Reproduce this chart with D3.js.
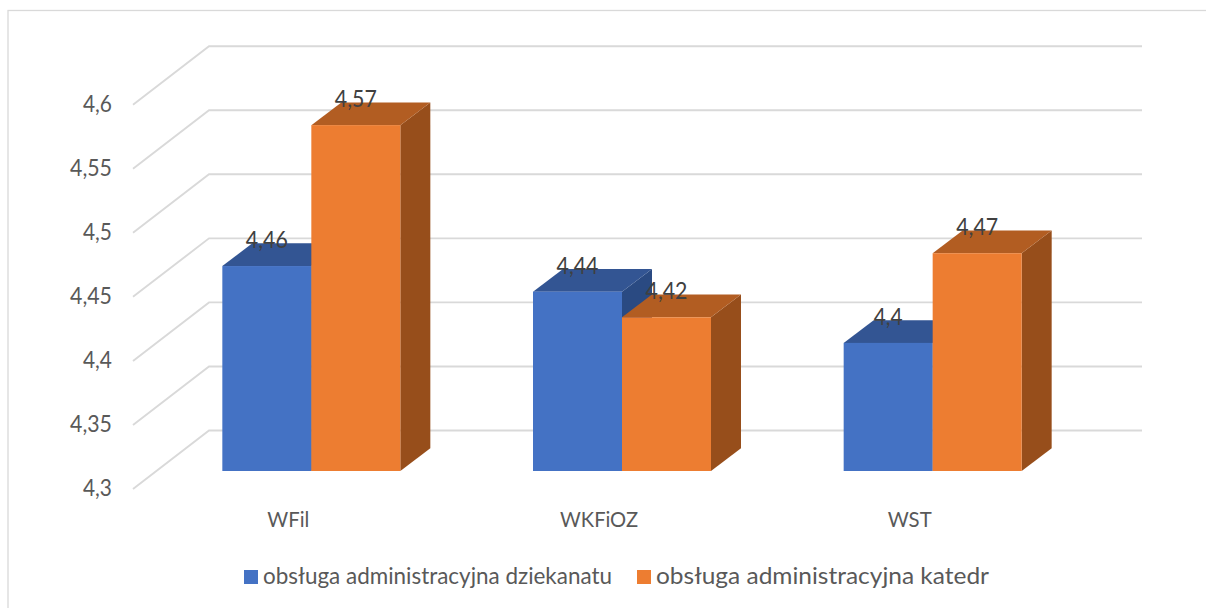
<!DOCTYPE html>
<html><head><meta charset="utf-8">
<script src="https://cdn.jsdelivr.net/npm/d3@7/dist/d3.min.js"></script>
<style>html,body{margin:0;padding:0;background:#fff;overflow:hidden}svg{display:block}text{font-family:Lato,"Open Sans",sans-serif}</style>
</head><body><svg id="c" width="1206" height="608"></svg>
<script>
const categories = ["WFil", "WKFiOZ", "WST"];
const seriesNames = ["obsługa administracyjna dziekanatu", "obsługa administracyjna katedr"];
const dziekanat = [4.46, 4.44, 4.4];
const katedr = [4.57, 4.42, 4.47];
const valueTicks = [4.3, 4.35, 4.4, 4.45, 4.5, 4.55, 4.6];
const colors = [{front:"#4472C4",top:"#335593",side:"#2A4A82"},{front:"#ED7D31",top:"#B25D22",side:"#974E1B"}];

const svg = d3.select("#c");
const fmt = v => String(v).replace(".", ",");
const numWidth = s => s.length < 4 ? 29 : 42;
const y = d3.scaleLinear().domain([4.3, 4.6]).range([471, 86.7]);
const x = d3.scaleBand().domain(categories).range([133, 1065]);
const barW = 89, groupW = barW * 2, depthX = 30, depthY = 22.7;
const gridFrontDy = 18, gridBackDy = -40.5, gridBackX = 209, gridEndX = 1142;
const barX = (c, s) => x(c) + 23 + x.bandwidth() / 2 - groupW / 2 + s * barW;

svg.append("rect").attr("x", 8).attr("y", 10.5).attr("width", 1300).attr("height", 700)
  .attr("fill", "#fff").attr("stroke", "#d9d9d9").attr("stroke-width", 1.3);

const grid = svg.append("g").attr("fill", "none").attr("stroke", "#d9d9d9").attr("stroke-width", 1.9);
grid.selectAll("path").data(valueTicks).join("path")
  .attr("d", v => `M${x.range()[0]},${y(v) + gridFrontDy}L${gridBackX},${y(v) + gridBackDy}L${gridEndX},${y(v) + gridBackDy}`);

const data = [];
[dziekanat, katedr].forEach((vals, s) => vals.forEach((v, i) => data.push({c: categories[i], v, s})));

const bars = svg.append("g").selectAll("g").data(data).join("g");
bars.append("path").attr("fill", d => colors[d.s].side)
  .attr("d", d => { const r = barX(d.c, d.s) + barW, t = y(d.v), b = y(4.3);
    return `M${r},${t}L${r + depthX},${t - depthY}L${r + depthX},${b - depthY}L${r},${b}Z`; });
bars.append("path").attr("fill", d => colors[d.s].top)
  .attr("d", d => { const l = barX(d.c, d.s), t = y(d.v);
    return `M${l},${t}L${l + depthX},${t - depthY}L${l + barW + depthX},${t - depthY}L${l + barW},${t}Z`; });
bars.append("rect").attr("fill", d => colors[d.s].front)
  .attr("x", d => barX(d.c, d.s)).attr("y", d => y(d.v))
  .attr("width", barW).attr("height", d => y(4.3) - y(d.v));

svg.append("g").selectAll("text").data(data).join("text")
  .attr("x", d => barX(d.c, d.s) + barW / 2).attr("y", d => y(d.v) - 18)
  .attr("text-anchor", "middle").attr("fill", "#404040").attr("font-size", 23)
  .attr("textLength", d => numWidth(fmt(d.v))).attr("lengthAdjust", "spacingAndGlyphs")
  .text(d => fmt(d.v));

const yAxis = svg.append("g").attr("transform", `translate(112,${gridFrontDy - 1})`)
  .call(d3.axisLeft(y).tickValues(valueTicks).tickFormat(fmt).tickSize(0).tickPadding(0));
yAxis.select(".domain").remove();
yAxis.selectAll("text").attr("fill", "#595959").attr("font-size", 23).attr("dy", "0.32em")
  .attr("textLength", d => numWidth(fmt(d))).attr("lengthAdjust", "spacingAndGlyphs")
  .style("font-family", 'Lato,"Open Sans",sans-serif');

const catWidth = {WFil: 42, WKFiOZ: 78, WST: 44};
const xAxis = svg.append("g").attr("transform", "translate(0,526.5)")
  .call(d3.axisBottom(x).tickSize(0).tickPadding(0));
xAxis.select(".domain").remove();
xAxis.selectAll("text").attr("fill", "#595959").attr("font-size", 22).attr("dy", 0)
  .attr("textLength", d => catWidth[d]).attr("lengthAdjust", "spacingAndGlyphs")
  .style("font-family", 'Lato,"Open Sans",sans-serif');

const legendX = [244, 637], legendW = [349, 333];
const legend = svg.append("g").selectAll("g").data(seriesNames).join("g");
legend.append("rect").attr("x", (d, i) => legendX[i]).attr("y", 570).attr("width", 14).attr("height", 14)
  .attr("fill", (d, i) => colors[i].front);
legend.append("text").attr("x", (d, i) => legendX[i] + 19).attr("y", 584)
  .attr("fill", "#595959").attr("font-size", 23)
  .attr("textLength", (d, i) => legendW[i]).attr("lengthAdjust", "spacingAndGlyphs").text(d => d);
</script></body></html>
